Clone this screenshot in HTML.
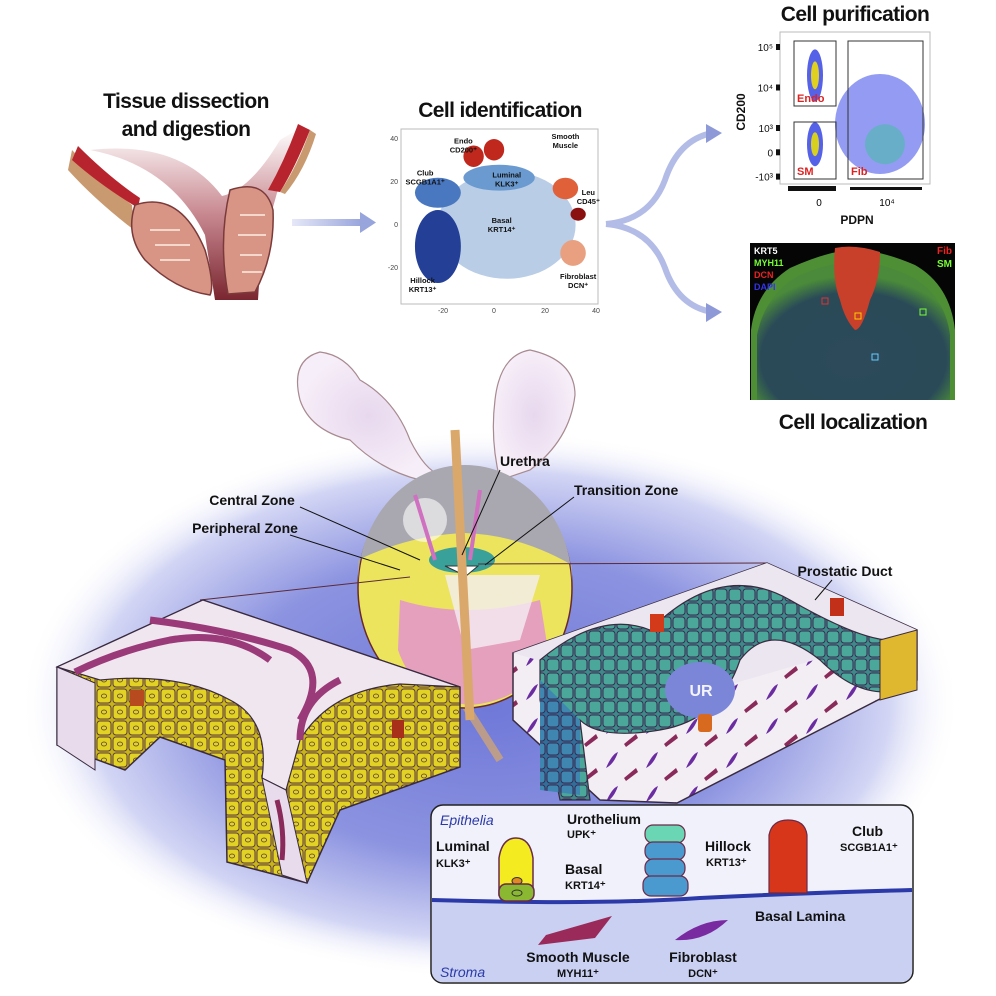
<!DOCTYPE html>
<html><head><meta charset="utf-8"><style>
html,body{margin:0;padding:0;background:#fff}
svg{display:block}
text{font-family:"Liberation Sans",sans-serif}
.tt{font-weight:bold;font-size:21px;fill:#111;letter-spacing:-0.6px}
.lb{font-weight:bold;font-size:14px;fill:#111}
.sm{font-weight:bold;font-size:7.5px;fill:#111}
.tk{font-size:7px;fill:#444}
</style></head><body>
<svg id="fig" width="996" height="996" viewBox="0 0 996 996" xmlns="http://www.w3.org/2000/svg">
<defs>
<radialGradient id="glow" cx="0.5" cy="0.5" r="0.5">
<stop offset="0" stop-color="#6f78d8"/><stop offset="0.55" stop-color="#8c93e0"/><stop offset="0.85" stop-color="#d2d5f4"/><stop offset="1" stop-color="#fff" stop-opacity="0"/>
</radialGradient>
<linearGradient id="arr" x1="0" x2="1"><stop offset="0" stop-color="#e6e8f8"/><stop offset="1" stop-color="#98a4dc"/></linearGradient>
<linearGradient id="cav" x1="0" y1="0" x2="0" y2="1"><stop offset="0" stop-color="#fff"/><stop offset="0.5" stop-color="#c88890"/><stop offset="1" stop-color="#7a2630"/></linearGradient>
<radialGradient id="sv" cx="0.5" cy="0.5" r="0.5"><stop offset="0" stop-color="#e8d8ee"/><stop offset="1" stop-color="#f6eef8"/></radialGradient>
<radialGradient id="tissue" cx="0.5" cy="0.7" r="0.6"><stop offset="0" stop-color="#2c4a5a"/><stop offset="0.8" stop-color="#2a4a58"/><stop offset="1" stop-color="#4a8a3a"/></radialGradient>
<pattern id="ycells" width="16" height="16" patternUnits="userSpaceOnUse"><rect width="16" height="16" fill="#c9b418"/><rect x="1" y="1" width="14" height="14" rx="3" fill="#e2d224" stroke="#5a3a40" stroke-width="1"/><ellipse cx="8" cy="8" rx="2.5" ry="2" fill="none" stroke="#5a3a40" stroke-width="0.8"/></pattern>
<pattern id="tcells" width="14" height="14" patternUnits="userSpaceOnUse"><rect width="14" height="14" fill="#3e8a8a"/><rect x="1" y="1" width="12" height="12" rx="3" fill="#4aa79a" stroke="#3a2a50" stroke-width="1"/></pattern>
<pattern id="bcells" width="14" height="14" patternUnits="userSpaceOnUse"><rect width="14" height="14" fill="#2f6f9a"/><rect x="1" y="1" width="12" height="12" rx="3" fill="#3f86b0" stroke="#3a2a50" stroke-width="1"/></pattern>
<pattern id="stroma" width="40" height="34" patternUnits="userSpaceOnUse"><rect width="40" height="34" fill="#f2eef4"/><path d="M6 20 Q12 6 18 4 Q14 16 6 20Z" fill="#6a2ca0"/><path d="M24 30 L36 20 L38 24 L26 33Z" fill="#8a2a5a"/></pattern>
</defs>

<!-- ===== top-left: tissue dissection ===== -->
<g>
<text class="tt" x="186" y="108" text-anchor="middle">Tissue dissection</text>
<text class="tt" x="186" y="136" text-anchor="middle">and digestion</text>
<g>
<path d="M90 150 Q170 165 205 235 L215 300 L258 300 Q262 220 300 128 L280 140 Q250 190 222 196 Q180 140 90 150Z" fill="url(#cav)"/>
<path d="M72 150 Q100 180 132 205 L134 230 Q95 200 68 170Z" fill="#c99a70"/>
<path d="M78 146 Q110 178 140 198 L138 208 Q100 185 72 160Z" fill="#b8242e"/>
<path d="M298 124 L310 130 Q295 168 280 192 L268 190 Q285 160 298 124Z" fill="#b8242e"/>
<path d="M310 130 L316 134 Q305 170 285 194 L280 192 Q298 165 310 130Z" fill="#c99a70"/>
<path d="M135 205 Q180 190 205 250 Q215 285 210 295 Q175 290 145 260 Q125 235 135 205Z" fill="#d89484" stroke="#7a3a3a" stroke-width="1.5"/>
<path d="M230 190 Q265 178 273 210 Q275 255 255 292 L228 294 Q218 240 230 190Z" fill="#d89484" stroke="#7a3a3a" stroke-width="1.5"/>
<path d="M150 230 h30 M155 245 h35 M160 260 h30 M240 215 h25 M238 235 h28 M240 255 h22 M242 272 h20" stroke="#f4d8cc" stroke-width="2"/>
</g>
<rect x="292" y="219" width="70" height="7" fill="url(#arr)"/>
<path d="M360 212 L376 222.5 L360 233Z" fill="#98a4dc"/>
</g>

<!-- ===== tSNE ===== -->
<g>
<text class="tt" x="500" y="117" text-anchor="middle">Cell identification</text>
<rect x="401" y="129" width="197" height="175" fill="#fff" stroke="#bbb" stroke-width="1"/>
<g id="tsne"></g>
</g>

<!-- branch arrows -->
<g>
<path d="M606 224 Q650 220 665 180 Q678 140 712 133" fill="none" stroke="#b3bce6" stroke-width="6"/>
<path d="M606 224 Q650 228 665 268 Q678 306 712 312" fill="none" stroke="#b3bce6" stroke-width="6"/>
<path d="M706 124 L722 133 L706 143Z" fill="#8e9ad8"/>
<path d="M706 303 L722 312 L706 322Z" fill="#8e9ad8"/>
</g>

<!-- ===== flow cytometry ===== -->
<g>
<text class="tt" x="855" y="21" text-anchor="middle">Cell purification</text>
<rect x="780" y="32" width="150" height="152" fill="#fff" stroke="#bbb"/>
<g id="flow"></g>
<text class="lb" x="0" y="0" transform="translate(745,112) rotate(-90)" text-anchor="middle" style="font-size:12px">CD200</text>
<text class="lb" x="857" y="224" text-anchor="middle" style="font-size:12px">PDPN</text>
</g>

<!-- ===== fluorescence ===== -->
<g>
<rect x="750" y="243" width="205" height="157" fill="#050505"/>
<path d="M751 400 L751 330 Q756 290 790 268 Q830 250 855 250 Q880 250 915 265 Q950 285 955 330 L955 400Z" fill="#4e8e34"/>
<path d="M757 400 L757 335 Q765 295 798 276 Q830 262 855 262 Q880 262 910 276 Q945 295 950 335 L950 400Z" fill="url(#tissue)"/>
<path d="M835 248 Q855 244 880 252 Q880 280 870 300 Q862 330 855 330 Q845 320 840 300 Q832 280 835 248Z" fill="#c8402a"/>
<rect x="822" y="298" width="6" height="6" fill="none" stroke="#d33" stroke-width="1"/>
<rect x="855" y="313" width="6" height="6" fill="none" stroke="#fc0" stroke-width="1"/>
<rect x="920" y="309" width="6" height="6" fill="none" stroke="#7f3" stroke-width="1"/>
<rect x="872" y="354" width="6" height="6" fill="none" stroke="#6cf" stroke-width="1"/>
<text x="754" y="254" style="font-size:9px;font-weight:bold" fill="#fff">KRT5</text>
<text x="754" y="266" style="font-size:9px;font-weight:bold" fill="#7f3">MYH11</text>
<text x="754" y="278" style="font-size:9px;font-weight:bold" fill="#e22">DCN</text>
<text x="754" y="290" style="font-size:9px;font-weight:bold" fill="#33e">DAPI</text>
<text x="952" y="254" text-anchor="end" style="font-size:10px;font-weight:bold" fill="#e22">Fib</text>
<text x="952" y="267" text-anchor="end" style="font-size:10px;font-weight:bold" fill="#7f3">SM</text>
<text class="tt" x="853" y="429" text-anchor="middle">Cell localization</text>
</g>

<!-- ===== bottom glow ===== -->
<ellipse cx="490" cy="705" rx="470" ry="275" fill="url(#glow)"/>

<!-- seminal vesicles -->
<g>
<path d="M300 400 Q290 360 320 352 Q345 355 360 380 Q395 400 410 440 Q425 470 440 475 L420 480 Q380 470 350 440 Q310 430 300 400Z" fill="url(#sv)" stroke="#a88a90" stroke-width="1.2"/>
<path d="M495 400 Q500 355 530 350 Q575 360 575 395 Q570 440 530 470 L500 480 Q490 440 495 400Z" fill="url(#sv)" stroke="#a88a90" stroke-width="1.2"/>
</g>

<!-- prostate sphere -->
<g>
<line x1="462" y1="700" x2="500" y2="760" stroke="#d9a86a" stroke-width="8" opacity="0.7"/>
<ellipse cx="465" cy="588" rx="107" ry="120" fill="#ece45c" stroke="#6a2a2a" stroke-width="1.5"/>
<path d="M358 585 A107 120 0 0 1 572 585 L572 565 Q520 535 465 533 Q410 535 358 560Z" fill="#a9a8b0"/>
<path d="M400 600 Q465 620 540 600 L548 650 Q530 700 470 705 Q415 700 398 650Z" fill="#e4a0bc"/>
<path d="M445 575 L540 575 L520 640 L465 650Z" fill="#f4eef4" opacity="0.8"/>
<ellipse cx="462" cy="560" rx="33" ry="13" fill="#3aa09a"/>
<circle cx="425" cy="520" r="22" fill="#fff" opacity="0.6"/>
<path d="M445 566 L478 566 L466 576Z" fill="#fff" stroke="#333"/>
<line x1="455" y1="430" x2="470" y2="720" stroke="#d9a86a" stroke-width="9"/>
<line x1="480" y1="490" x2="470" y2="560" stroke="#d070c0" stroke-width="4"/>
<line x1="415" y1="495" x2="435" y2="560" stroke="#d070c0" stroke-width="4"/>
<line x1="478" y1="564" x2="767" y2="563" stroke="#5a2a3a" stroke-width="1"/>
<line x1="410" y1="577" x2="200" y2="600" stroke="#5a2a3a" stroke-width="1"/>
</g>

<!-- left tissue block -->
<g>
<path d="M57 667 L203 600 L460 687 L460 767 L340 810 L307 883 L227 862 L225 760 L160 737 L125 770 L57 745Z" fill="url(#ycells)" stroke="#3a2a40" stroke-width="1.5"/>
<path d="M57 667 L203 600 L460 687 L400 684 Q330 690 300 740 L286 790 L262 778 Q270 720 230 700 Q180 672 100 680 Z" fill="#f0e6f0" stroke="#3a2a40" stroke-width="1.2"/>
<path d="M75 672 Q120 650 170 640 Q230 630 270 660 M150 620 Q230 630 290 650 Q330 670 300 720 M340 680 Q300 700 300 740" fill="none" stroke="#9a3a78" stroke-width="7"/>
<path d="M57 667 L95 683 L95 770 L57 745Z" fill="#e8dcec" stroke="#3a2a40"/>
<path d="M262 778 L286 790 L307 883 L282 875 Z" fill="#e8dcec" stroke="#3a2a40"/>
<path d="M277 800 Q285 830 282 860" stroke="#8a2a5a" stroke-width="5" fill="none"/>
<rect x="130" y="690" width="14" height="16" fill="#b84a20"/>
<rect x="392" y="720" width="12" height="18" fill="#a8301a"/>
</g>

<!-- right tissue block -->
<g>
<path d="M513 653 L767 563 L917 630 L917 680 L677 803 L600 800 L513 720Z" fill="url(#stroma)" stroke="#3a2a40" stroke-width="1.5"/>
<path d="M513 653 L767 563 L917 630 L677 700Z" fill="#ece6f0"/>
<path d="M540 660 Q600 610 650 630 Q720 560 790 600 Q860 640 890 640 L900 690 Q860 700 820 660 Q770 620 740 660 Q720 720 660 730 Q600 740 580 720 L590 800 L560 800 L540 700Z" fill="url(#tcells)" stroke="#3a2a40" stroke-width="1.2"/>
<path d="M540 680 L540 790 L580 795 L580 720Z" fill="url(#bcells)"/>
<path d="M880 640 L917 630 L917 690 L880 700Z" fill="#e0b830" stroke="#3a2a40"/>
<ellipse cx="700" cy="690" rx="35" ry="28" fill="#7c86d8"/>
<text x="701" y="696" text-anchor="middle" style="font-size:16px;font-weight:bold" fill="#f4f4ff">UR</text>
<rect x="698" y="714" width="14" height="18" fill="#d86a20" rx="3"/>
<rect x="650" y="614" width="14" height="18" fill="#d23a1a"/>
<rect x="830" y="598" width="14" height="18" fill="#c3301a"/>
</g>

<!-- zone labels -->
<g>
<text class="lb" x="500" y="466">Urethra</text>
<line x1="500" y1="470" x2="462" y2="555" stroke="#111"/>
<text class="lb" x="574" y="495">Transition Zone</text>
<line x1="574" y1="497" x2="485" y2="565" stroke="#111"/>
<text class="lb" x="252" y="505" text-anchor="middle">Central Zone</text>
<line x1="300" y1="507" x2="420" y2="560" stroke="#111"/>
<text class="lb" x="245" y="533" text-anchor="middle">Peripheral Zone</text>
<line x1="290" y1="535" x2="400" y2="570" stroke="#111"/>
<text class="lb" x="845" y="576" text-anchor="middle">Prostatic Duct</text>
<line x1="832" y1="580" x2="815" y2="600" stroke="#111"/>
</g>

<!-- legend -->
<g>
<rect x="431" y="805" width="482" height="178" rx="12" fill="#f1f1fb" stroke="#222" stroke-width="1.5"/>
<path d="M432 900 Q600 905 700 898 Q800 893 912 890 L912 970 Q912 982 900 982 L444 982 Q432 982 432 970Z" fill="#c9d0f2"/>
<path d="M432 900 Q600 905 700 898 Q800 893 912 890" fill="none" stroke="#2b3aa8" stroke-width="4"/>
<text x="440" y="825" style="font-size:14px;font-style:italic" fill="#2b3aa8">Epithelia</text>
<text x="440" y="977" style="font-size:14px;font-style:italic" fill="#2b3aa8">Stroma</text>
<text class="lb" x="436" y="851">Luminal</text>
<text x="436" y="867" style="font-size:11px;font-weight:bold" fill="#111">KLK3⁺</text>
<path d="M499 895 L499 858 Q502 838 516 838 Q530 838 533 858 L533 895Z" fill="#f4ec20" stroke="#6a2a4a" stroke-width="1.5"/>
<ellipse cx="517" cy="881" rx="5" ry="3.5" fill="#e08a20" stroke="#333"/>
<rect x="499" y="884" width="35" height="17" rx="7" fill="#8ab830" stroke="#6a2a4a" stroke-width="1.5"/>
<ellipse cx="517" cy="893" rx="5" ry="3" fill="none" stroke="#333"/>
<text class="lb" x="565" y="874">Basal</text>
<text x="565" y="889" style="font-size:11px;font-weight:bold" fill="#111">KRT14⁺</text>
<text class="lb" x="567" y="824">Urothelium</text>
<text x="567" y="838" style="font-size:11px;font-weight:bold" fill="#111">UPK⁺</text>
<rect x="645" y="825" width="40" height="18" rx="8" fill="#6ad6b4" stroke="#6a2a4a" stroke-width="1.2"/>
<rect x="645" y="842" width="40" height="18" rx="8" fill="#4a9ad0" stroke="#6a2a4a" stroke-width="1.2"/>
<rect x="645" y="859" width="40" height="18" rx="8" fill="#4a9ad0" stroke="#6a2a4a" stroke-width="1.2"/>
<rect x="643" y="876" width="45" height="20" rx="8" fill="#4a9ad0" stroke="#6a2a4a" stroke-width="1.2"/>
<text class="lb" x="705" y="851">Hillock</text>
<text x="706" y="866" style="font-size:11px;font-weight:bold" fill="#111">KRT13⁺</text>
<path d="M769 893 L769 835 Q772 820 788 820 Q805 820 807 835 L807 893Z" fill="#d8361a" stroke="#6a2a4a" stroke-width="1.2"/>
<text class="lb" x="852" y="836">Club</text>
<text x="840" y="851" style="font-size:11px;font-weight:bold" fill="#111">SCGB1A1⁺</text>
<text class="lb" x="755" y="921">Basal Lamina</text>
<path d="M546 935 L612 916 L595 938 L538 945Z" fill="#9a2a5a"/>
<path d="M675 940 Q700 920 728 920 Q705 942 675 940Z" fill="#7a2aa0"/>
<text class="lb" x="578" y="962" text-anchor="middle">Smooth Muscle</text>
<text x="578" y="977" text-anchor="middle" style="font-size:11px;font-weight:bold" fill="#111">MYH11⁺</text>
<text class="lb" x="703" y="962" text-anchor="middle">Fibroblast</text>
<text x="703" y="977" text-anchor="middle" style="font-size:11px;font-weight:bold" fill="#111">DCN⁺</text>
</g>
</svg>
<script>
// tSNE cluster data (tSNE coordinates)
const clusterNames = ["Basal","Luminal","Club","Hillock","Endo","Endo2","Smooth Muscle","Leu","Fibroblast"];
const clusterX = [5, 2, -22, -22, -8, 0, 28, 33, 31];
const clusterY = [0, 22, 15, -10, 32, 35, 17, 5, -13];
const clusterRX = [27, 14, 9, 9, 4, 4, 5, 3, 5];
const clusterRY = [25, 6, 7, 17, 5, 5, 5, 3, 6];
const clusterColor = ["#b9cde6","#6a9ad0","#4a78c0","#233f96","#c0281e","#c0281e","#e0603a","#8a1010","#e8a080"];
const tsneXTicks = [-20, 0, 20, 40];
const tsneYTicks = [40, 20, 0, -20];
const tsneLabels = [["Endo","CD200⁺",-12,38],["Club","SCGB1A1⁺",-27,23],["Luminal","KLK3⁺",5,22],["Smooth","Muscle",28,40],["Basal","KRT14⁺",3,1],["Hillock","KRT13⁺",-28,-27],["Fibroblast","DCN⁺",33,-25],["Leu","CD45⁺",37,14]];
// flow gate data
const gateNames = ["Endo","SM","Fib"];
const flowYTicks = ["10⁵","10⁴","10³","0","-10³"];
const flowYVals = [5,4,3,2.4,1.8];

const NS="http://www.w3.org/2000/svg";
const tsx = v => 494 + v*2.55;
const tsy = v => 225 - v*2.15;
const tg = document.getElementById('tsne');
function mk(t,a,p){const e=document.createElementNS(NS,t);for(const k in a)e.setAttribute(k,a[k]);p.appendChild(e);return e;}
clusterNames.forEach((n,i)=>{
  const e=mk('ellipse',{cx:tsx(clusterX[i]),cy:tsy(clusterY[i]),rx:clusterRX[i]*2.55,ry:clusterRY[i]*2.15,fill:clusterColor[i]},tg);
  
  
});
tsneXTicks.forEach(v=>{const t=mk('text',{x:tsx(v),y:313,'text-anchor':'middle',class:'tk'},tg);t.textContent=v;
  
  });
tsneYTicks.forEach(v=>{const t=mk('text',{x:398,y:tsy(v)+2,'text-anchor':'end',class:'tk'},tg);t.textContent=v;
  
  });
tsneLabels.forEach(l=>{const t=mk('text',{x:tsx(l[2]),y:tsy(l[3]),'text-anchor':'middle',class:'sm'},tg);t.textContent=l[0];
  const t2=mk('text',{x:tsx(l[2]),y:tsy(l[3])+9,'text-anchor':'middle',class:'sm'},tg);t2.textContent=l[1];
  
  });

const fy = v => 47 + (5-v)*40.5;
const fg=document.getElementById('flow');
mk('ellipse',{cx:815,cy:fy(4.3),rx:8,ry:26,fill:"#2a3ae0",opacity:0.8},fg);
mk('ellipse',{cx:815,cy:fy(4.3),rx:4,ry:14,fill:"#e0d020"},fg);
mk('ellipse',{cx:815,cy:fy(2.6),rx:8,ry:22,fill:"#2a3ae0",opacity:0.8},fg);
mk('ellipse',{cx:815,cy:fy(2.6),rx:4,ry:12,fill:"#d8d020"},fg);
mk('ellipse',{cx:880,cy:fy(3.1),rx:45,ry:50,fill:"#3a4ae8",opacity:0.55},fg);
mk('ellipse',{cx:885,cy:fy(2.6),rx:20,ry:20,fill:"#40c0a0",opacity:0.5},fg);
const gates=[[794,41,42,65],[794,122,42,57],[848,41,75,138]];
gates.forEach((g,i)=>{const r=mk('rect',{x:g[0],y:g[1],width:g[2],height:g[3],fill:'none',stroke:'#333'},fg);
  
  
  const t=mk('text',{x:g[0]+3,y:g[1]+g[3]-4,style:'font-size:11px;font-weight:bold',fill:'#d22'},fg);t.textContent=gateNames[i];});
flowYTicks.forEach((s,i)=>{const t=mk('text',{x:773,y:fy(flowYVals[i])+4,'text-anchor':'end',style:'font-size:10px',fill:'#111'},fg);t.textContent=s;
  
  
  mk('rect',{x:776,y:fy(flowYVals[i])-3,width:4,height:6,fill:'#111'},fg);});
mk('rect',{x:788,y:186,width:48,height:5,fill:'#111'},fg);
mk('rect',{x:850,y:187,width:72,height:3,fill:'#111'},fg);
const x0=mk('text',{x:819,y:206,'text-anchor':'middle',style:'font-size:10px'},fg);x0.textContent='0';
const x1=mk('text',{x:887,y:206,'text-anchor':'middle',style:'font-size:10px'},fg);x1.textContent='10⁴';
</script>
</body></html>
